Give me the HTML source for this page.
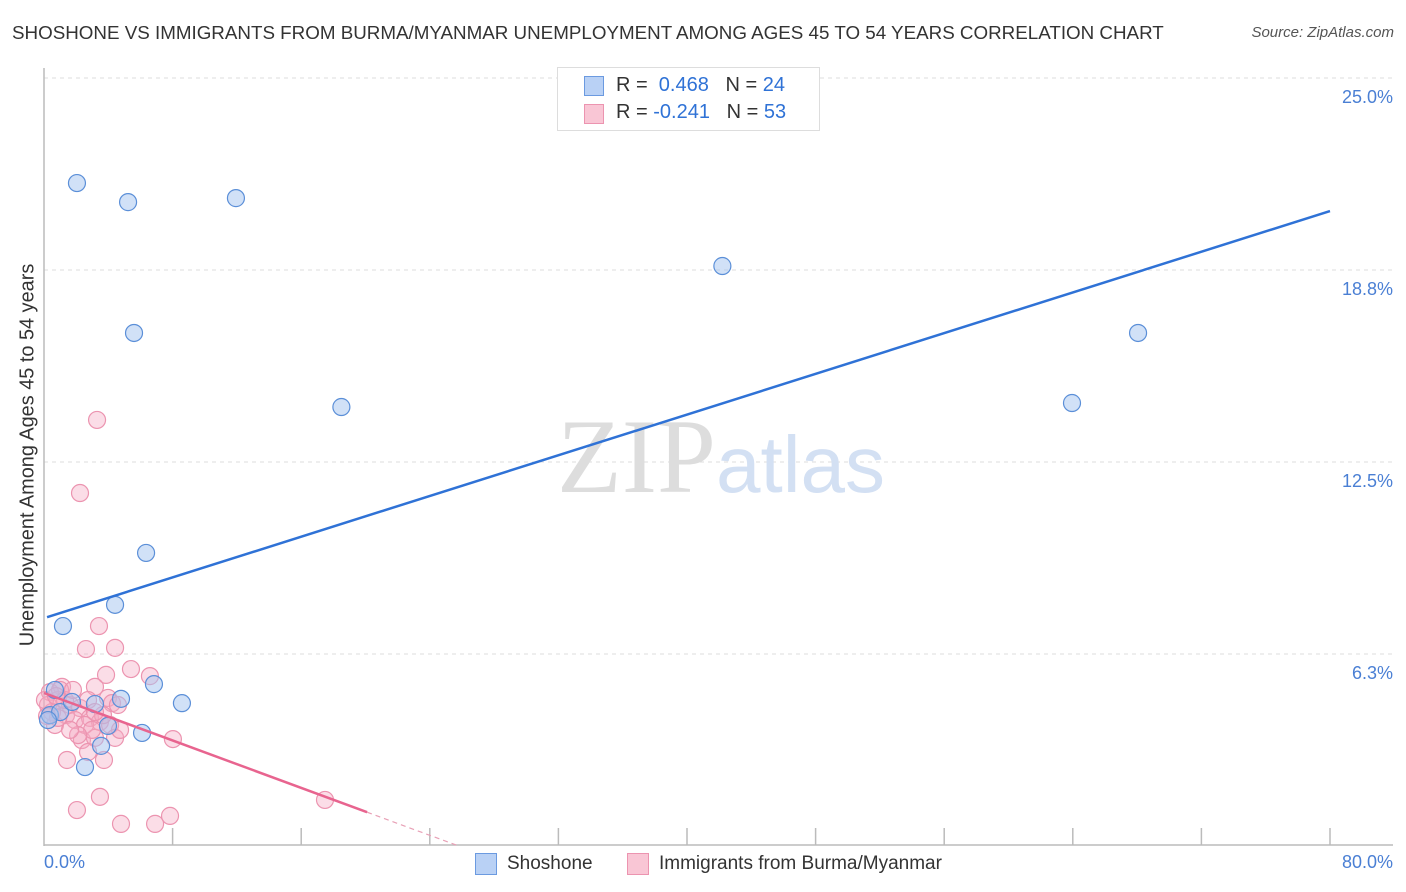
<!DOCTYPE html>
<html><head><meta charset="utf-8"><style>
body{margin:0;background:#fff;font-family:"Liberation Sans",sans-serif;}
#c{position:relative;width:1406px;height:892px;overflow:hidden}
.t{position:absolute;white-space:nowrap}
</style></head><body>
<div id="c">
<div class="t" style="left:12px;top:22px;font-size:18.8px;color:#333">SHOSHONE VS IMMIGRANTS FROM BURMA/MYANMAR UNEMPLOYMENT AMONG AGES 45 TO 54 YEARS CORRELATION CHART</div>
<div class="t" style="right:12px;top:24px;font-size:15px;color:#555;font-style:italic">Source: ZipAtlas.com</div>
<svg id="s" width="1406" height="892" style="position:absolute;left:0;top:0"></svg>
</div>
<script>
const yTicks=[6.25,12.5,18.75,25];
const yTickLabels=["6.3%","12.5%","18.8%","25.0%"];
const blueX=[2.05,5.23,11.94,42.2,5.6,18.5,63.95,68.06,6.35,4.42,1.18,6.84,4.79,8.58,3.17,3.98,6.1,3.55,2.55,0.37,1.0,1.74,0.68,0.25];
const blueY=[21.58,20.96,21.09,18.88,16.7,14.29,14.42,16.7,9.54,7.85,7.16,5.27,4.79,4.65,4.62,3.91,3.68,3.26,2.57,4.26,4.36,4.69,5.08,4.1];
const pinkX=[3.30,2.24,3.42,2.61,4.42,5.41,6.59,3.86,3.17,1.12,0.37,0.87,1.62,2.24,3.98,4.23,1.37,1.93,2.86,3.48,4.11,0.68,2.36,3.17,4.42,2.74,1.43,3.73,8.02,3.48,2.05,4.79,6.91,7.84,17.48,0.25,0.5,1.0,2.55,2.99,2.12,4.73,1.62,0.06,1.31,2.74,3.67,3.17,0.87,0.19,4.6,1.8,0.75];
const pinkY=[13.87,11.49,7.16,6.41,6.45,5.76,5.53,5.57,5.18,5.18,5.01,4.75,4.59,4.49,4.82,4.65,4.26,4.10,4.17,4.04,3.94,3.94,3.45,3.52,3.52,3.06,2.80,2.80,3.48,1.60,1.17,0.72,0.72,0.98,1.50,4.59,4.36,5.08,3.94,3.78,3.61,3.78,3.78,4.75,4.75,4.75,4.26,4.36,4.17,4.23,4.59,5.08,4.88];
const blueLineX=[0.19,80],blueLineY=[7.45,20.67];
const pinkLineX=[0,20.1],pinkLineY=[4.98,1.1];
const pinkDashX=[20.1,25.8],pinkDashY=[1.1,0];
const X=v=>44+v*16.075, Y=v=>846-v*30.72;
const s=document.getElementById('s'),NS='http://www.w3.org/2000/svg';
function el(t,a,p){const e=document.createElementNS(NS,t);for(const k in a)e.setAttribute(k,a[k]);(p||s).appendChild(e);return e;}
yTicks.forEach((v,i)=>{
 const g=el('line',{x1:44,x2:1393,y1:Y(v),y2:Y(v),stroke:'#ddd','stroke-dasharray':'4,4'});
 
 
 const t=el('text',{x:1393,y:Y(v)+25,'text-anchor':'end','font-size':18,fill:'#4a7fd4','font-family':'Liberation Sans'});
 t.textContent=yTickLabels[i];
 
 
});
let a=el('line',{x1:44,x2:44,y1:68,y2:846,stroke:'#bbb','stroke-width':1.5});
a=el('line',{x1:44,x2:1393,y1:845,y2:845,stroke:'#bbb','stroke-width':1.5});
for(let i=1;i<=10;i++){const tk=el('line',{x1:X(i*8),x2:X(i*8),y1:828,y2:845,stroke:'#bbb','stroke-width':1.5});}
let w=el('text',{x:716,y:492,'text-anchor':'end','font-size':106,fill:'#ddd','font-family':'Liberation Serif'});w.textContent='ZIP';
w=el('text',{x:716,y:492,'font-size':80,fill:'#d3e0f3','font-family':'Liberation Sans'});w.textContent='atlas';
pinkX.forEach((v,i)=>{const c=el('circle',{cx:X(v),cy:Y(pinkY[i]),r:8.5,fill:'rgba(246,170,195,0.4)',stroke:'#ec94b0','stroke-width':1.2});});
blueX.forEach((v,i)=>{const c=el('circle',{cx:X(v),cy:Y(blueY[i]),r:8.5,fill:'rgba(164,196,240,0.5)',stroke:'#5b8fd8','stroke-width':1.2});});
let l=el('line',{x1:X(blueLineX[0]),y1:Y(blueLineY[0]),x2:X(blueLineX[1]),y2:Y(blueLineY[1]),stroke:'#2f72d6','stroke-width':2.5});
l=el('line',{x1:X(pinkLineX[0]),y1:Y(pinkLineY[0]),x2:X(pinkLineX[1]),y2:Y(pinkLineY[1]),stroke:'#e8648f','stroke-width':2.5});
l=el('line',{x1:X(pinkDashX[0]),y1:Y(pinkDashY[0]),x2:X(pinkDashX[1]),y2:Y(pinkDashY[1]),stroke:'#e8a0b6','stroke-width':1.2,'stroke-dasharray':'5,4'});
</script>
<div class="t" style="left:44px;top:852px;font-size:18px;color:#4a7fd4">0.0%</div>
<div class="t" style="right:13px;top:852px;font-size:18px;color:#4a7fd4">80.0%</div>
<div class="t" style="left:18px;top:455px;font-size:19.9px;color:#333;transform:translate(-50%,-50%) rotate(-90deg);transform-origin:center;margin-left:10px">Unemployment Among Ages 45 to 54 years</div>
<div style="position:absolute;left:557px;top:67px;width:261px;height:62px;border:1px solid #ddd;background:#fff;font-size:20px">
 <div class="t" style="left:26px;top:8px;width:20px;height:20px;background:#b9d1f5;border:1px solid #6b9ae0;box-sizing:border-box"></div>
 <div class="t" style="left:58px;top:6px;color:#333">R = &nbsp;<span style="color:#2f72d6">0.468</span> &nbsp;&nbsp;N = <span style="color:#2f72d6">24</span></div>
 <div class="t" style="left:26px;top:36px;width:20px;height:20px;background:#f9c6d5;border:1px solid #ec94b0;box-sizing:border-box"></div>
 <div class="t" style="left:58px;top:33px;color:#333">R = <span style="color:#2f72d6">-0.241</span> &nbsp;&nbsp;N = <span style="color:#2f72d6">53</span></div>
</div>
<div class="t" style="left:475px;top:853px;width:22px;height:22px;background:#b9d1f5;border:1px solid #6b9ae0;box-sizing:border-box"></div>
<div class="t" style="left:507px;top:853px;font-size:19px;color:#333">Shoshone</div>
<div class="t" style="left:627px;top:853px;width:22px;height:22px;background:#f9c6d5;border:1px solid #ec94b0;box-sizing:border-box"></div>
<div class="t" style="left:659px;top:853px;font-size:19px;color:#333">Immigrants from Burma/Myanmar</div>
</body></html>
